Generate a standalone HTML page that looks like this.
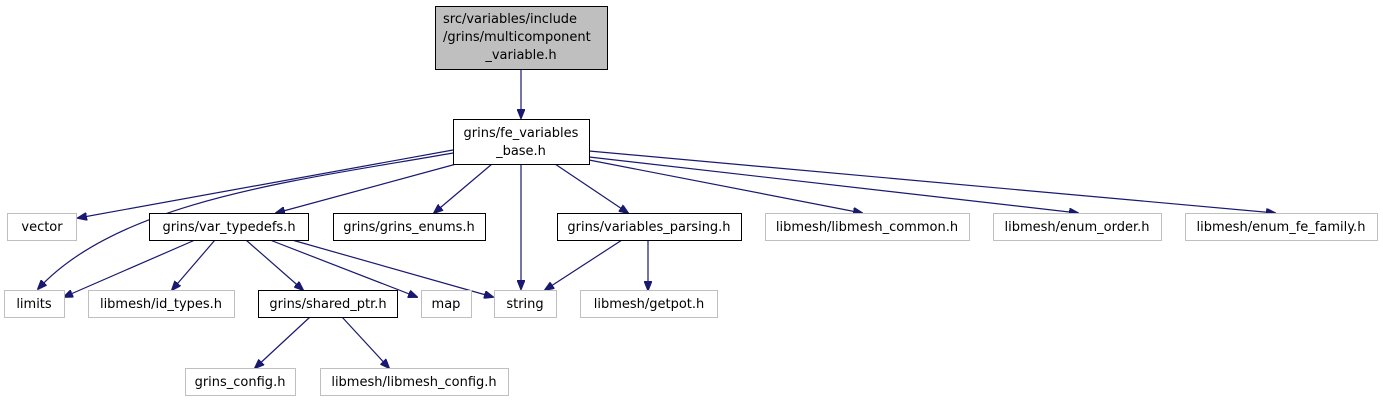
<!DOCTYPE html>
<html><head><style>body{margin:0;background:#fff}svg{display:block}</style></head><body>
<svg width="1383" height="403" xmlns="http://www.w3.org/2000/svg" font-family="DejaVu Sans, Liberation Sans, sans-serif" font-size="13">
<defs><marker id="a" markerWidth="10" markerHeight="8" refX="9" refY="4" orient="auto" markerUnits="userSpaceOnUse"><path d="M0,0L10,4L0,8z" fill="#191970" stroke="#191970"/></marker></defs>
<g stroke="#191970" stroke-width="1.2" fill="none" marker-end="url(#a)">
<path d="M521,69V118"/>
<path d="M453,150L78,218"/>
<path d="M453,153C300,180 120,200 38,289"/>
<path d="M460,163L276,213"/>
<path d="M492,164L434,213"/>
<path d="M521,164V289"/>
<path d="M555,164L628,213"/>
<path d="M589,160L862,213"/>
<path d="M589,157L1078,213"/>
<path d="M589,151L1275,213"/>
<path d="M195,240L64,297"/>
<path d="M215,240L172,290"/>
<path d="M246,240L303,290"/>
<path d="M270,240L417,297"/>
<path d="M292,240L493,297"/>
<path d="M622,240L545,290"/>
<path d="M648,240V290"/>
<path d="M310,317L255,368"/>
<path d="M342,317L389,368"/>
</g>
<g stroke-width="1">
<rect x="435.5" y="6.5" width="172" height="63" fill="#bfbfbf" stroke="#000"/>
<rect x="453.5" y="119.5" width="136" height="45" fill="#fff" stroke="#000"/>
<rect x="149.5" y="213.5" width="159" height="27" fill="#fff" stroke="#000"/>
<rect x="333.5" y="213.5" width="152" height="27" fill="#fff" stroke="#000"/>
<rect x="557.5" y="213.5" width="184" height="27" fill="#fff" stroke="#000"/>
<rect x="258.5" y="290.5" width="139" height="27" fill="#fff" stroke="#000"/>
<g fill="#fff" stroke="#bfbfbf">
<rect x="7.5" y="213.5" width="69" height="27"/>
<rect x="765.5" y="213.5" width="204" height="27"/>
<rect x="993.5" y="213.5" width="168" height="27"/>
<rect x="1185.5" y="213.5" width="192" height="27"/>
<rect x="4.5" y="290.5" width="60" height="27"/>
<rect x="88.5" y="290.5" width="146" height="27"/>
<rect x="421.5" y="290.5" width="50" height="27"/>
<rect x="494.5" y="290.5" width="62" height="27"/>
<rect x="580.5" y="290.5" width="137" height="27"/>
<rect x="185.5" y="368.5" width="110" height="27"/>
<rect x="320.5" y="368.5" width="188" height="27"/>
</g></g>
<g fill="#000" text-anchor="middle">
<text x="443" y="23" text-anchor="start">src/variables/include</text>
<text x="443" y="41" text-anchor="start">/grins/multicomponent</text>
<text x="521" y="59">_variable.h</text>
<text x="521" y="137">grins/fe_variables</text>
<text x="521" y="155">_base.h</text>
<text x="229" y="231">grins/var_typedefs.h</text>
<text x="409" y="231">grins/grins_enums.h</text>
<text x="649" y="231">grins/variables_parsing.h</text>
<text x="328" y="308">grins/shared_ptr.h</text>
</g>
<g fill="#000" text-anchor="middle">
<text x="42" y="231">vector</text>
<text x="867" y="231">libmesh/libmesh_common.h</text>
<text x="1077" y="231">libmesh/enum_order.h</text>
<text x="1281" y="231">libmesh/enum_fe_family.h</text>
<text x="34" y="308">limits</text>
<text x="161" y="308">libmesh/id_types.h</text>
<text x="446" y="308">map</text>
<text x="525" y="308">string</text>
<text x="649" y="308">libmesh/getpot.h</text>
<text x="240" y="386">grins_config.h</text>
<text x="414" y="386">libmesh/libmesh_config.h</text>
</g>
</svg>
</body></html>
